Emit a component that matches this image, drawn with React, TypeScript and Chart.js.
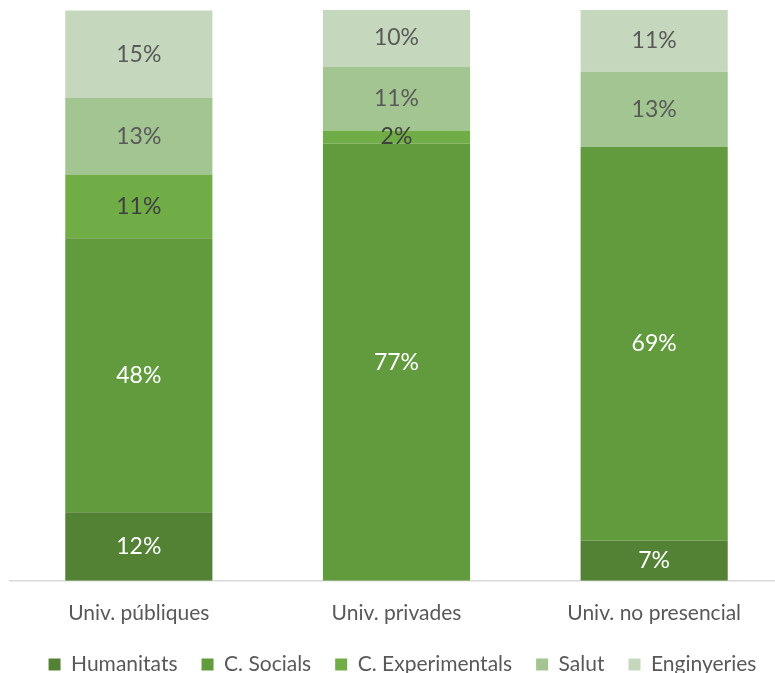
import React, { useEffect, useRef } from "react";
import { Chart, registerables } from "chart.js";

Chart.register(...registerables);

const categories = ["Univ. públiques", "Univ. privades", "Univ. no presencial"];
const seriesNames = ["Humanitats", "C. Socials", "C. Experimentals", "Salut", "Enginyeries"];
const humanitats = [12, 0, 7];
const socials = [48, 76.6, 69];
const experimentals = [11.2, 2.3, 0];
const salut = [13.4, 11.2, 13.2];
const enginyeries = [15.3, 10, 10.9];
const seriesValues = [humanitats, socials, experimentals, salut, enginyeries];
const colors = ["#548235", "#629A3E", "#70AD47", "#A3C592", "#C5D8BD"];
const labelColors = ["#FFFFFF", "#FFFFFF", "#404040", "#595959", "#595959"];

const FONT = "Lato, sans-serif";

const labelPlugin = {
  id: "segLabels",
  afterLayout(chart: any) {
    if (chart.legend) {
      chart.legend.left += 6;
      chart.legend.right += 6;
    }
  },
  afterDatasetsDraw(chart: any) {
    const ctx = chart.ctx;
    ctx.save();
    ctx.font = `23px ${FONT}`;
    ctx.textAlign = "center";
    ctx.textBaseline = "middle";
    chart.data.datasets.forEach((ds: any, di: number) => {
      const meta = chart.getDatasetMeta(di);
      meta.data.forEach((el: any, i: number) => {
        const v = ds.data[i];
        if (!v) return;
        const y = (el.y + el.base) / 2;
        ctx.fillStyle = labelColors[di];
        ctx.fillText(Math.round(v) + "%", el.x, y);
      });
    });
    ctx.restore();
  },
};

export default function App() {
  const ref = useRef<HTMLCanvasElement>(null);
  useEffect(() => {
    document.body.style.margin = "0";
    const chart = new Chart(ref.current!, {
      type: "bar",
      data: {
        labels: categories,
        datasets: seriesValues.map((vals, i) => ({
          label: seriesNames[i],
          data: vals,
          backgroundColor: colors[i],
          borderWidth: 0,
          categoryPercentage: 1,
          barPercentage: 0.571,
        })),
      },
      options: {
        animation: false,
        responsive: true,
        maintainAspectRatio: false,
        layout: { padding: { left: 10, right: 7, top: 10, bottom: -12 } },
        scales: {
          x: {
            stacked: true,
            grid: { display: false },
            border: { display: true, color: "#D9D9D9", width: 1.5 },
            ticks: { color: "#595959", font: { family: FONT, size: 21 }, padding: 12 },
            afterFit: (scale: any) => {
              scale.height -= 8;
            },
          },
          y: {
            stacked: true,
            display: false,
            min: 0,
            max: 100,
          },
        },
        plugins: {
          legend: {
            position: "bottom",
            labels: {
              color: "#595959",
              font: { family: FONT, size: 21 },
              boxWidth: 12,
              boxHeight: 12,
              padding: 24,
            },
          },
          tooltip: { enabled: false },
        },
      },
      plugins: [labelPlugin],
    });
    return () => chart.destroy();
  }, []);
  return (
    <div style={{ position: "fixed", left: 0, top: 0, width: 775, height: 673, overflow: "hidden" }}>
      <div style={{ position: "relative", width: 790, height: 673 }}>
        <canvas ref={ref} />
      </div>
    </div>
  );
}
